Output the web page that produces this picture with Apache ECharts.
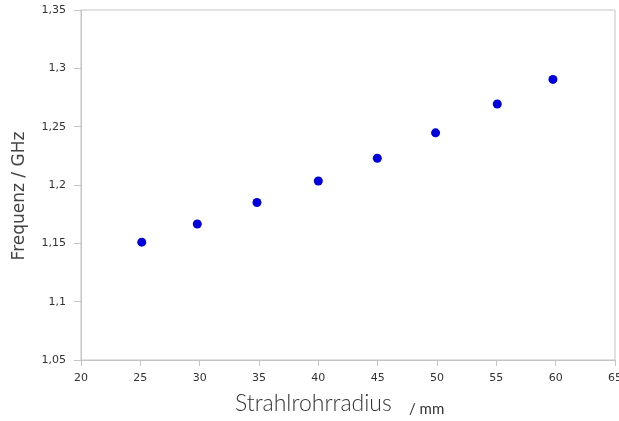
<!DOCTYPE html>
<html>
<head>
<meta charset="utf-8">
<script src="https://cdn.jsdelivr.net/npm/echarts@6/dist/echarts.min.js"></script>
<style>
  html, body { margin: 0; padding: 0; background: #fff; }
  #chart { width: 619px; height: 421px; }
</style>
</head>
<body>
<div id="chart"></div>
<script>
// Beam pipe radius (mm) and measured frequency (GHz)
const radiusMm = [25.12, 29.8, 34.83, 40.0, 44.97, 49.88, 55.08, 59.77];
const freqGHz = [1.151, 1.1666, 1.185, 1.2034, 1.2229, 1.2447, 1.2694, 1.2905];

const xTitle = 'Strahlrohrradius';
const xUnit = '/ mm';
const yTitle = 'Frequenz / GHz';

const points = radiusMm.map((r, i) => [r, freqGHz[i]]);
const comma = v => String(+v.toFixed(2)).replace('.', ',');

const chart = echarts.init(document.getElementById('chart'), null, { renderer: 'canvas' });
chart.setOption({
  animation: false,
  backgroundColor: '#fff',
  grid: {
    left: 81, right: 4, top: 10, bottom: 61,
    outerBoundsMode: 'none', containLabel: false,
    show: true, borderColor: '#c4c4c4', borderWidth: 1
  },
  xAxis: {
    type: 'value', min: 20, max: 65, interval: 5,
    axisLine: { show: true, lineStyle: { color: '#c4c4c4' } },
    axisTick: { show: true, length: 6, lineStyle: { color: '#c4c4c4' } },
    axisLabel: { color: '#333', fontFamily: 'DejaVu Sans', fontSize: 11, margin: 13 },
    splitLine: { show: false }
  },
  yAxis: {
    type: 'value', min: 1.05, max: 1.35, interval: 0.05,
    axisLine: { show: true, lineStyle: { color: '#c4c4c4' } },
    axisTick: { show: true, length: 7, lineStyle: { color: '#c4c4c4' } },
    axisLabel: { color: '#333', fontFamily: 'DejaVu Sans', fontSize: 11, margin: 15, formatter: comma },
    splitLine: { show: false }
  },
  graphic: [
    {
      type: 'text', x: 20, y: 196, rotation: Math.PI / 2,
      style: {
        text: yTitle, fontFamily: 'DejaVu Sans', fontSize: 17, fill: '#444',
        align: 'center', verticalAlign: 'middle'
      }
    },
    {
      type: 'text', left: 235, top: 392,
      style: { text: xTitle, fontFamily: 'Lato', fontWeight: 300, fontSize: 23, fill: '#333' }
    },
    {
      type: 'text', left: 409, top: 402,
      style: { text: xUnit, fontFamily: 'Lato', fontSize: 15, fill: '#333' }
    }
  ],
  series: [{
    type: 'scatter',
    data: points,
    symbol: 'circle',
    symbolSize: 9,
    itemStyle: { color: '#0000dd', opacity: 1 }
  }]
});
</script>
</body>
</html>
